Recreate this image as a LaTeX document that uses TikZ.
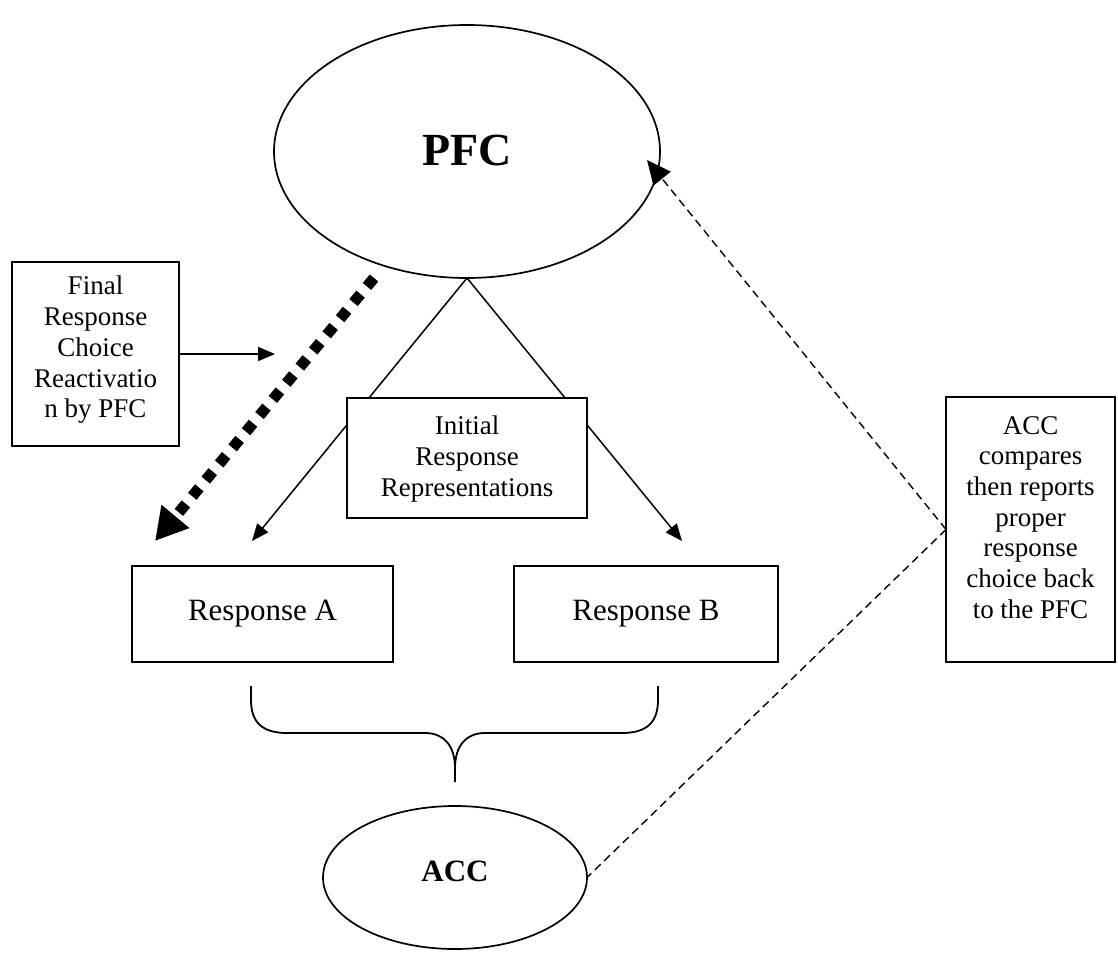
\documentclass[tikz,border=0pt]{standalone}
\usepackage{fontspec}
\setmainfont{Liberation Serif}
\usetikzlibrary{shapes.geometric,arrows.meta}
\begin{document}
\begin{tikzpicture}[x=1pt,y=-1pt,
  box/.style={draw, line width=1.8pt, fill=white, inner sep=0pt, outer sep=0pt},
  oval/.style={draw, ellipse, line width=1.7pt, inner sep=0pt, outer sep=0pt},
  small/.style={font=\fontsize{27}{30.7}\selectfont, align=center, inner sep=0pt},
  big/.style={font=\fontsize{31}{36}\selectfont, inner sep=0pt},
  thinarrow/.style={line width=1.5pt, -{Triangle[length=17pt,width=14pt]}},
  feedback/.style={line width=1.4pt, dash pattern=on 8pt off 5pt},
  reactivation/.style={line width=11pt, dash pattern=on 11pt off 10pt,
    -{Triangle[length=32pt,width=34pt]}},
]
\useasboundingbox (0,0) rectangle (1118,963);

% prefrontal cortex
\node[oval, minimum width=386pt, minimum height=253pt] (pfc) at (467,151.5) {};
\node[font=\fontsize{46}{50}\selectfont\bfseries, inner sep=0pt, anchor=base] (pfctext) at (467,165) {PFC};

% initial response representations fan out to both responses
\coordinate (tipA) at (252,541);
\coordinate (tipB) at (682,541);
\draw[thinarrow] (pfc.south) -- (tipA);
\draw[thinarrow] (pfc.south) -- (tipB);

\node[box, minimum width=240pt, minimum height=120pt] (init) at (467,458) {};
\node[small, anchor=north] (inittext) at (467,416) {Initial\\Response\\Representations};

% the two candidate responses
\node[box, minimum width=261pt, minimum height=96pt] (ra) at (262.5,614) {};
\node[big, anchor=base] (ratext) at (262.5,620) {Response A};
\node[box, minimum width=264pt, minimum height=96pt] (rb) at (646,614) {};
\node[big, anchor=base] (rbtext) at (646,620) {Response B};

% final response choice label
\node[box, minimum width=167pt, minimum height=184pt] (fbox) at (95.5,354) {};
\node[small, anchor=north] (ftext) at (95.5,276) {Final\\Response\\Choice\\Reactivatio\\n by PFC};
\coordinate (ftip) at (275,354);
\draw[thinarrow] (fbox.east) -- (ftip);

% reactivation path from PFC back to response A
\coordinate (rstart) at (374,278);
\coordinate (rtip) at (155,541);
\draw[reactivation] (rstart) -- (rtip);

% anterior cingulate cortex
\node[oval, minimum width=264pt, minimum height=143pt] (acc) at (455,877.5) {};
\node[font=\fontsize{31}{36}\selectfont\bfseries, inner sep=0pt, anchor=base] (acctext) at (455,881) {ACC};

% brace gathering both responses into the ACC
\draw[line width=1.8pt]
  (251,686) -- (251,700) .. controls (251,722) and (262,733) .. (287,733)
  -- (425,733) .. controls (444,733) and (455,746) .. (455,768) -- (455,782);
\draw[line width=1.8pt]
  (658,686) -- (658,700) .. controls (658,722) and (647,733) .. (622,733)
  -- (485,733) .. controls (466,733) and (455,746) .. (455,768);

% ACC explanation box and feedback to PFC
\node[box, minimum width=169pt, minimum height=265pt] (accbox) at (1030.5,529.5) {};
\node[small, anchor=north] (accboxtext) at (1030.5,416) {ACC\\compares\\then reports\\proper\\response\\choice back\\to the PFC};

\coordinate (pfcin) at (647,160);
\draw[feedback] (accbox.west) -- (acc.east);
\draw[feedback, -{Triangle[length=24pt,width=22pt]}] (accbox.west) -- (pfcin);
\end{tikzpicture}
\end{document}
